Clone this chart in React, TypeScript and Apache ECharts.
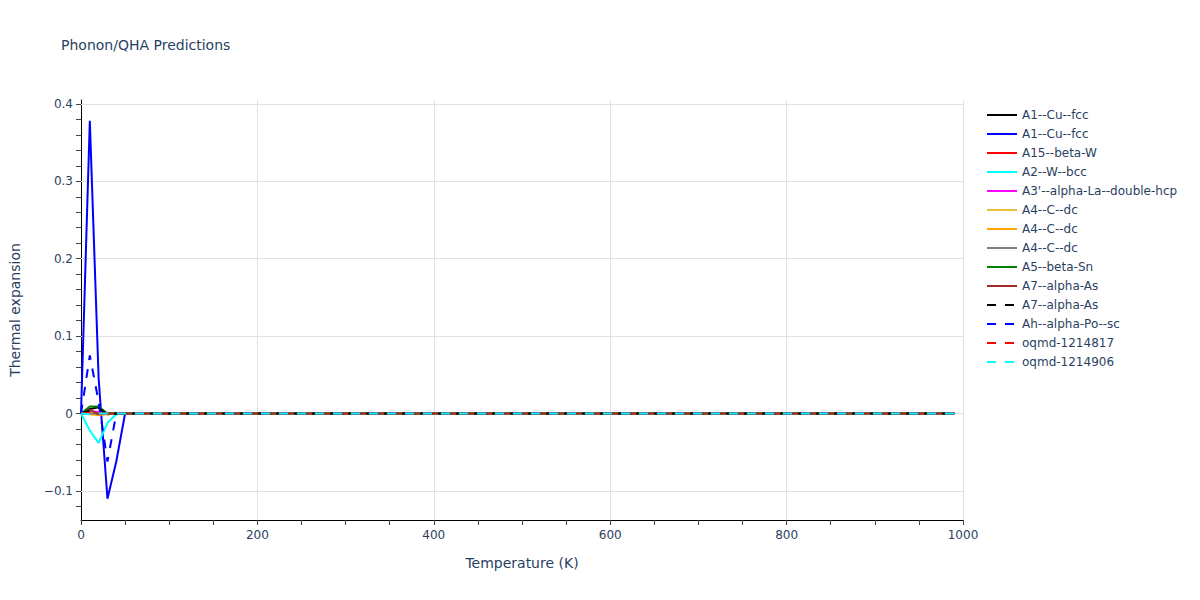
import React, { useEffect, useRef } from "react";
import * as echarts from "echarts";

// Temperatures (K) sampled by the curves
const TEMPS = [0, 10, 20, 30, 40, 50, 60, 990];

// Thermal expansion values for each series (same order as TEMPS)
const CU_FCC_BLACK = [0, 0.006, 0.008, -0.001, 0, 0, 0, 0];
const CU_FCC_BLUE = [0, 0.378, 0.045, -0.11, -0.062, 0, 0, 0];
const BETA_W = [0, 0.002, 0.001, 0, 0, 0, 0, 0];
const W_BCC = [0, -0.022, -0.038, -0.012, -0.001, 0, 0, 0];
const ALPHA_LA = [0, 0.003, 0.002, 0, 0, 0, 0, 0];
const C_DC_GOLD = [0, 0.001, 0, 0, 0, 0, 0, 0];
const C_DC_ORANGE = [0, -0.001, -0.002, -0.001, 0, 0, 0, 0];
const C_DC_GRAY = [0, 0, 0, 0, 0, 0, 0, 0];
const BETA_SN = [0, 0.009, 0.009, 0, 0, 0, 0, 0];
const ALPHA_AS_BROWN = [0, 0.005, -0.001, 0, 0, 0, 0, 0];
const ALPHA_AS_DASH = [0, 0.004, 0.007, -0.001, 0, 0, 0, 0];
const ALPHA_PO_SC = [0, 0.075, 0.015, -0.062, 0, 0, 0, 0];
const OQMD_1214817 = [0, 0.001, 0, 0, 0, 0, 0, 0];
const OQMD_1214906 = [0, -0.001, 0, 0, 0, 0, 0, 0];

const SERIES_NAMES = [
  "A1--Cu--fcc",
  "A1--Cu--fcc",
  "A15--beta-W",
  "A2--W--bcc",
  "A3'--alpha-La--double-hcp",
  "A4--C--dc",
  "A4--C--dc",
  "A4--C--dc",
  "A5--beta-Sn",
  "A7--alpha-As",
  "A7--alpha-As",
  "Ah--alpha-Po--sc",
  "oqmd-1214817",
  "oqmd-1214906",
];
const SERIES_VALUES = [
  CU_FCC_BLACK,
  CU_FCC_BLUE,
  BETA_W,
  W_BCC,
  ALPHA_LA,
  C_DC_GOLD,
  C_DC_ORANGE,
  C_DC_GRAY,
  BETA_SN,
  ALPHA_AS_BROWN,
  ALPHA_AS_DASH,
  ALPHA_PO_SC,
  OQMD_1214817,
  OQMD_1214906,
];
const SERIES_COLORS = [
  "#000000",
  "#0000ff",
  "#ff0000",
  "#00ffff",
  "#ff00ff",
  "#ebc040",
  "#ffa500",
  "#808080",
  "#008000",
  "#a52a2a",
  "#000000",
  "#0000ff",
  "#ff0000",
  "#00ffff",
];
const SERIES_DASHED = [
  false, false, false, false, false, false, false, false, false, false,
  true, true, true, true,
];

const Y_LABELS = [-0.1, 0, 0.1, 0.2, 0.3, 0.4];
const Y_TICKS = [
  -0.12, -0.1, -0.08, -0.06, -0.04, -0.02, 0, 0.02, 0.04, 0.06, 0.08, 0.1,
  0.12, 0.14, 0.16, 0.18, 0.2, 0.22, 0.24, 0.26, 0.28, 0.3, 0.32, 0.34, 0.36,
  0.38, 0.4,
];
const Y_GRID = [-0.1, 0, 0.1, 0.2, 0.3, 0.4];

const FONT = "'DejaVu Sans', Verdana, sans-serif";
const TEXT_COLOR = "#2a3f5f";

export default function App() {
  const ref = useRef<HTMLDivElement>(null);

  useEffect(() => {
    if (!ref.current) return;
    const chart = echarts.init(ref.current, undefined, { renderer: "svg" });

    const series: any[] = SERIES_NAMES.map((name, i) => {
      const s: any = {
        name: name + "#" + i,
        type: "line",
        data: TEMPS.map((t, j) => [t, SERIES_VALUES[i][j]]),
        symbol: "none",
        showSymbol: false,
        lineStyle: {
          color: SERIES_COLORS[i],
          width: 2,
          type: SERIES_DASHED[i] ? [9, 9] : "solid",
        },
        itemStyle: { color: SERIES_COLORS[i] },
        z: 3,
      };
      if (i === 0) {
        s.markLine = {
          silent: true,
          symbol: "none",
          label: { show: false },
          lineStyle: { color: "#e2e2e2", width: 1, type: "solid" },
          data: Y_GRID.map((v) => ({ yAxis: v })),
          z: 1,
        };
      }
      return s;
    });

    chart.setOption({
      animation: false,
      backgroundColor: "#ffffff",
      title: {
        text: "Phonon/QHA Predictions",
        left: 61,
        top: 38,
        padding: 0,
        textStyle: {
          fontFamily: FONT,
          fontSize: 14,
          fontWeight: "normal",
          color: TEXT_COLOR,
        },
      },
      legend: {
        orient: "vertical",
        left: 986,
        top: 109,
        itemWidth: 30,
        itemHeight: 14,
        itemGap: 7,
        padding: 0,
        itemStyle: { color: "transparent", borderColor: "transparent", borderWidth: 0, opacity: 0 },
        formatter: (name: string) => name.replace(/#\d+$/, ""),
        textStyle: { fontFamily: FONT, fontSize: 12, color: TEXT_COLOR },
        data: SERIES_NAMES.map((n, i) => n + "#" + i),
      },
      grid: { left: 79, right: 237, top: 100, bottom: 80, containLabel: false },
      xAxis: {
        type: "value",
        min: 0,
        max: 1000,
        interval: 200,
        name: "Temperature (K)",
        nameLocation: "middle",
        nameGap: 36,
        nameTextStyle: { fontFamily: FONT, fontSize: 14, color: TEXT_COLOR },
        axisLine: { onZero: false, lineStyle: { color: "#000000", width: 1 } },
        axisTick: { show: true, length: 5, lineStyle: { color: "#444444" } },
        minorTick: { show: true, splitNumber: 4, length: 5, lineStyle: { color: "#444444" } },
        axisLabel: {
          fontFamily: FONT,
          fontSize: 12,
          color: TEXT_COLOR,
          margin: 9,
          formatter: (v: number) => String(v),
        },
        splitLine: { show: true, lineStyle: { color: "#e2e2e2", width: 1 } },
      },
      yAxis: {
        type: "value",
        min: -0.1375,
        max: 0.405,
        name: "Thermal expansion",
        nameLocation: "middle",
        nameGap: 59,
        nameTextStyle: { fontFamily: FONT, fontSize: 14, color: TEXT_COLOR },
        axisLine: { show: true, onZero: false, lineStyle: { color: "#000000", width: 1 } },
        axisTick: { show: true, length: 5, customValues: Y_TICKS, lineStyle: { color: "#444444" } },
        axisLabel: {
          fontFamily: FONT,
          fontSize: 12,
          color: TEXT_COLOR,
          margin: 8,
          customValues: Y_LABELS,
          formatter: (v: number) => (v < 0 ? "\u2212" + String(Math.abs(v)) : String(v)),
        },
        splitLine: { show: false },
      },
      series,
    });

    return () => chart.dispose();
  }, []);

  return <div ref={ref} style={{ width: 1200, height: 600, margin: -8 }} />;
}
